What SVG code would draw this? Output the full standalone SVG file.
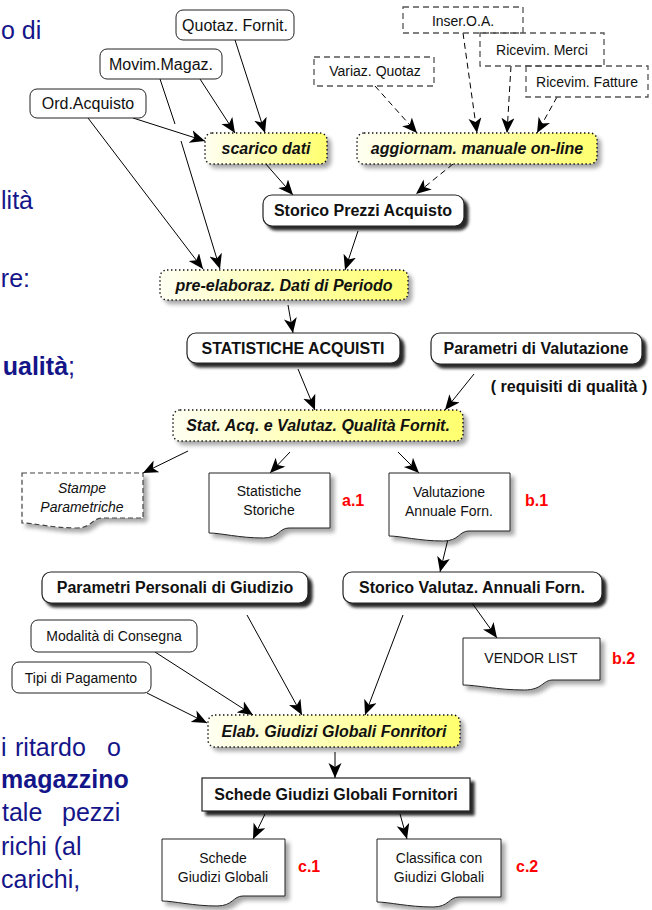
<svg xmlns="http://www.w3.org/2000/svg" width="652" height="910" viewBox="0 0 652 910">
<defs>
<style>
text{font-family:"Liberation Sans",Arial,Helvetica,sans-serif;fill:#111}
.plain{fill:#fff;stroke:#222;stroke-width:1}
.dash{fill:none;stroke:#555;stroke-width:1.3;stroke-dasharray:6 4}
.proc{fill:url(#yg);stroke:#111;stroke-width:1.4;stroke-dasharray:1.4 2.6}
.bold{fill:#fff;stroke:#222;stroke-width:1.2}
.doc{fill:#fff;stroke:#222;stroke-width:1}
.docd{fill:#fff;stroke:#444;stroke-width:1.2;stroke-dasharray:5 3}
.t16{font-size:16px}
.t14{font-size:14px}
.tb{font-size:16px;font-weight:bold}
.tbi{font-size:16px;font-weight:bold;font-style:italic}
.ti{font-size:14px;font-style:italic}
.red{font-size:16px;font-weight:bold;fill:#f00}
.bg{font-size:25px;fill:#15158a}
.c{fill:none;stroke:#000;stroke-width:1;marker-end:url(#ah)}
.cd{fill:none;stroke:#000;stroke-width:1;stroke-dasharray:6 4;marker-end:url(#ah)}
</style>
<linearGradient id="yg" x1="0" y1="0" x2="1" y2="0">
<stop offset="0" stop-color="#fffff2"/>
<stop offset="1" stop-color="#ffff6e"/>
</linearGradient>
<filter id="shB" x="-10%" y="-20%" width="130%" height="170%">
<feGaussianBlur in="SourceAlpha" stdDeviation="1.5"/>
<feOffset dx="4" dy="4" result="o"/>
<feComponentTransfer><feFuncA type="linear" slope="0.85"/></feComponentTransfer>
<feMerge><feMergeNode/><feMergeNode in="SourceGraphic"/></feMerge>
</filter>
<filter id="shS" x="-10%" y="-20%" width="130%" height="170%">
<feGaussianBlur in="SourceAlpha" stdDeviation="2"/>
<feOffset dx="4" dy="4" result="o"/>
<feComponentTransfer><feFuncA type="linear" slope="0.35"/></feComponentTransfer>
<feMerge><feMergeNode/><feMergeNode in="SourceGraphic"/></feMerge>
</filter>
<marker id="ah" markerWidth="16" markerHeight="14" refX="15" refY="6.5" orient="auto" markerUnits="userSpaceOnUse">
<path d="M0,0 L15,6.5 L0,13 L4,6.5 Z" fill="#000" stroke="none"/>
</marker>
</defs>

<g id="background-text">
<text class="bg" x="1" y="39">o di</text>
<text class="bg" x="33" y="209" text-anchor="end">lità</text>
<text class="bg" x="30" y="287" text-anchor="end">re:</text>
<text class="bg" x="75" y="375" text-anchor="end"><tspan font-weight="bold">ualità</tspan>;</text>
<text class="bg" y="756"><tspan x="1">i</tspan><tspan x="15">ritardo</tspan><tspan x="107">o</tspan></text>
<text class="bg" x="1" y="788" font-weight="bold" font-size="24">magazzino</text>
<text class="bg" y="821"><tspan x="2">tale</tspan><tspan x="62">pezzi</tspan></text>
<text class="bg" x="1" y="855">richi (al</text>
<text class="bg" x="1" y="888">carichi,</text>
</g>

<g id="connectors">
<line class="c" x1="235" y1="40" x2="265" y2="133"/>
<line class="c" x1="200" y1="79" x2="235" y2="133"/>
<line class="c" x1="133" y1="118" x2="205" y2="141"/>
<path class="c" d="M160,79 L175,124 M181,141 L220,269"/>
<line class="c" x1="88" y1="118" x2="203" y2="269"/>
<line class="c" x1="265" y1="163" x2="293" y2="195"/>
<line class="cd" x1="453" y1="164" x2="416" y2="194"/>
<line class="cd" x1="375" y1="86" x2="417" y2="133"/>
<line class="cd" x1="463" y1="33" x2="477" y2="133"/>
<line class="cd" x1="511" y1="66" x2="507" y2="133"/>
<line class="cd" x1="557" y1="97" x2="537" y2="133"/>
<line class="c" x1="358" y1="231" x2="345" y2="270"/>
<line class="c" x1="288" y1="305" x2="293" y2="333"/>
<line class="c" x1="298" y1="369" x2="315" y2="410"/>
<line class="c" x1="474" y1="374" x2="445" y2="410"/>
<line class="c" x1="188" y1="451" x2="143" y2="473"/>
<line class="c" x1="290" y1="452" x2="270" y2="473"/>
<line class="c" x1="398" y1="452" x2="419" y2="473"/>
<line class="c" x1="449" y1="535" x2="440" y2="572"/>
<line class="c" x1="472" y1="603" x2="497" y2="638"/>
<line class="c" x1="403" y1="615" x2="365" y2="715"/>
<line class="c" x1="247" y1="615" x2="302" y2="715"/>
<line class="c" x1="155" y1="652" x2="253" y2="715"/>
<line class="c" x1="147" y1="693" x2="207" y2="723"/>
<line class="c" x1="335" y1="752" x2="335" y2="778"/>
<line class="c" x1="265" y1="814" x2="253" y2="839"/>
<line class="c" x1="400" y1="814" x2="407" y2="839"/>
</g>

<g id="n-quotaz"><rect class="plain" x="176" y="10" width="118" height="30" rx="7"/><text class="t16" x="235" y="31" text-anchor="middle">Quotaz. Fornit.</text></g>
<g id="n-movim"><rect class="plain" x="100" y="49" width="122" height="30" rx="7"/><text class="t16" x="161" y="70" text-anchor="middle">Movim.Magaz.</text></g>
<g id="n-ord"><rect class="plain" x="30" y="89" width="116" height="29" rx="7"/><text class="t16" x="88" y="109" text-anchor="middle">Ord.Acquisto</text></g>

<g id="n-inser"><rect class="dash" x="403" y="7" width="120" height="26"/><text class="t14" x="463" y="26" text-anchor="middle">Inser.O.A.</text></g>
<g id="n-merci"><rect class="dash" x="480" y="33" width="124" height="33"/><text class="t14" x="542" y="55" text-anchor="middle">Ricevim. Merci</text></g>
<g id="n-fatture"><rect class="dash" x="526" y="66" width="122" height="31"/><text class="t14" x="587" y="87" text-anchor="middle">Ricevim. Fatture</text></g>
<g id="n-variaz"><rect class="dash" x="314" y="57" width="120" height="29"/><text class="t14" x="375" y="76" text-anchor="middle">Variaz. Quotaz</text></g>

<g id="n-scarico"><rect class="proc" x="205" y="133" width="122" height="31" rx="7" filter="url(#shS)"/><text class="tbi" x="266" y="154" text-anchor="middle">scarico dati</text></g>
<g id="n-aggiornam"><rect class="proc" x="357" y="133" width="240" height="31" rx="7" filter="url(#shS)"/><text class="tbi" x="477" y="154" text-anchor="middle">aggiornam. manuale on-line</text></g>

<g id="n-storico-prezzi"><rect class="bold" x="263" y="195" width="201" height="31" rx="9" filter="url(#shB)"/><text class="tb" x="363" y="216" text-anchor="middle">Storico Prezzi Acquisto</text></g>

<g id="n-preelab"><rect class="proc" x="160" y="270" width="248" height="30" rx="7" filter="url(#shS)"/><text class="tbi" x="284" y="291" text-anchor="middle">pre-elaboraz. Dati di Periodo</text></g>

<g id="n-statistiche"><rect class="bold" x="187" y="333" width="213" height="30" rx="9" filter="url(#shB)"/><text class="tb" x="293" y="354" text-anchor="middle" font-size="15">STATISTICHE ACQUISTI</text></g>
<g id="n-param-valut"><rect class="bold" x="431" y="333" width="211" height="31" rx="9" filter="url(#shB)"/><text class="tb" x="536" y="354" text-anchor="middle">Parametri di Valutazione</text>
<text class="tb" x="569" y="392" text-anchor="middle">( requisiti di qualità )</text></g>

<g id="n-statacq"><rect class="proc" x="173" y="410" width="290" height="31" rx="7" filter="url(#shS)"/><text class="tbi" x="318" y="431" text-anchor="middle">Stat. Acq. e Valutaz. Qualità Fornit.</text></g>

<g id="n-stampe"><path class="docd" d="M22 473 H143 V518 H102 C92 518 92 528 76.5 528 C52 528 34 523 22 523 Z" filter="url(#shS)"/><text class="ti" x="82" y="493" text-anchor="middle">Stampe</text><text class="ti" x="82" y="512" text-anchor="middle">Parametriche</text></g>
<g id="n-statstoriche"><path class="doc" d="M209 473 H330 V528 H289 C279 528 279 538 263.5 538 C239 538 221 533 209 533 Z" filter="url(#shS)"/><text class="t14" x="269" y="496" text-anchor="middle">Statistiche</text><text class="t14" x="269" y="515" text-anchor="middle">Storiche</text>
<text class="red" x="342" y="506">a.1</text></g>
<g id="n-valutazione"><path class="doc" d="M389 473 H510 V531 H469 C459 531 459 541 443.5 541 C419 541 401 536 389 536 Z" filter="url(#shS)"/><text class="t14" x="449" y="497" text-anchor="middle">Valutazione</text><text class="t14" x="449" y="516" text-anchor="middle">Annuale Forn.</text>
<text class="red" x="525" y="506">b.1</text></g>

<g id="n-param-pers"><rect class="bold" x="42" y="572" width="266" height="31" rx="9" filter="url(#shB)"/><text class="tb" x="175" y="593" text-anchor="middle">Parametri Personali di Giudizio</text></g>
<g id="n-storico-val"><rect class="bold" x="343" y="572" width="259" height="31" rx="9" filter="url(#shB)"/><text class="tb" x="472" y="593" text-anchor="middle">Storico Valutaz. Annuali Forn.</text></g>

<g id="n-vendor"><path class="doc" d="M463 638 H600 V680 H553 C542.5 680 542.5 690 524.5 690 C497 690 477 685 463 685 Z" filter="url(#shS)"/><text class="t14" x="531" y="663" text-anchor="middle">VENDOR LIST</text>
<text class="red" x="612" y="664">b.2</text></g>

<g id="n-modalita"><rect class="plain" x="31" y="620" width="166" height="32" rx="7"/><text class="t14" x="114" y="641" text-anchor="middle">Modalità di Consegna</text></g>
<g id="n-tipi"><rect class="plain" x="12" y="662" width="139" height="31" rx="7"/><text class="t14" x="81" y="683" text-anchor="middle">Tipi di Pagamento</text></g>

<g id="n-elab"><rect class="proc" x="208" y="715" width="252" height="32" rx="7" filter="url(#shS)"/><text class="tbi" x="334" y="737" text-anchor="middle">Elab. Giudizi Globali Fonritori</text></g>

<g id="n-schede"><rect class="bold" x="202" y="778" width="268" height="33" filter="url(#shB)"/><text class="tb" x="336" y="800" text-anchor="middle">Schede Giudizi Globali Fornitori</text></g>

<g id="n-schede-doc"><path class="doc" d="M162 839 H285 V896 H243 C233 896 233 906 217 906 C193 906 174 901 162 901 Z" filter="url(#shS)"/><text class="t14" x="223" y="863" text-anchor="middle">Schede</text><text class="t14" x="223" y="882" text-anchor="middle">Giudizi Globali</text>
<text class="red" x="298" y="872">c.1</text></g>
<g id="n-classifica"><path class="doc" d="M377 839 H501 V897 H459 C449 897 449 907 433 907 C408 907 389 902 377 902 Z" filter="url(#shS)"/><text class="t14" x="439" y="863" text-anchor="middle">Classifica con</text><text class="t14" x="439" y="882" text-anchor="middle">Giudizi Globali</text>
<text class="red" x="516" y="872">c.2</text></g>
</svg>
